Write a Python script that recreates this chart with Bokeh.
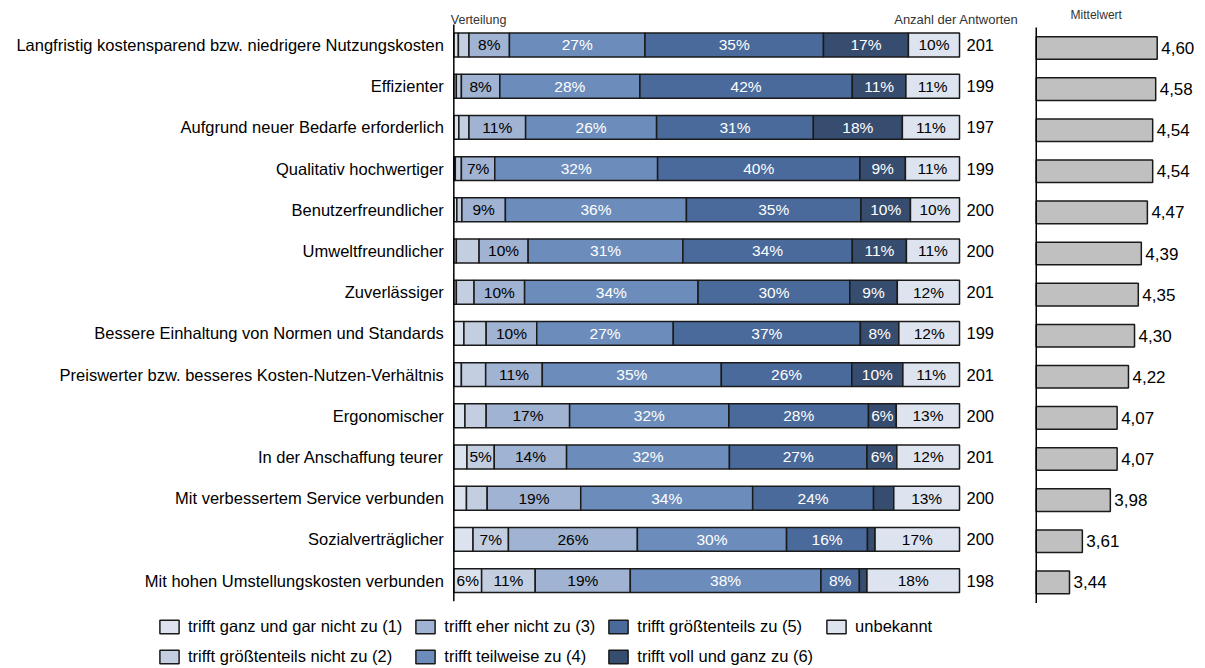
from bokeh.plotting import figure
from bokeh.models import ColumnDataSource, Range1d, Legend, LegendItem, Label
from bokeh.embed import file_html
from bokeh.resources import INLINE
from bokeh.core.properties import value

categories = [
    "Langfristig kostensparend bzw. niedrigere Nutzungskosten",
    "Effizienter",
    "Aufgrund neuer Bedarfe erforderlich",
    "Qualitativ hochwertiger",
    "Benutzerfreundlicher",
    "Umweltfreundlicher",
    "Zuverlässiger",
    "Bessere Einhaltung von Normen und Standards",
    "Preiswerter bzw. besseres Kosten-Nutzen-Verhältnis",
    "Ergonomischer",
    "In der Anschaffung teurer",
    "Mit verbessertem Service verbunden",
    "Sozialverträglicher",
    "Mit hohen Umstellungskosten verbunden",
]

# percentages per answer level (rows follow categories)
lvl1 = [0.9, 0.5, 1.0, 0.3, 0.6, 0.5, 0.5, 2.0, 1.5, 2.2, 2.6, 2.5, 3.8, 5.5]
lvl2 = [2.1, 1.0, 2.0, 1.2, 1.0, 4.5, 3.5, 4.4, 4.8, 4.2, 5.4, 4.1, 7.0, 10.6]
lvl3 = [8.0, 7.6, 11.2, 6.6, 8.6, 9.7, 10.0, 10.0, 11.2, 16.5, 14.3, 18.5, 25.5, 18.8]
lvl4 = [26.8, 27.7, 25.9, 32.2, 35.8, 30.6, 34.3, 27.0, 35.4, 31.5, 32.2, 34.0, 29.5, 37.7]
lvl5 = [35.3, 42.0, 31.0, 40.0, 34.5, 33.5, 30.0, 37.0, 25.8, 27.6, 27.2, 23.9, 16.0, 7.6]
lvl6 = [16.8, 10.6, 17.6, 9.0, 9.8, 10.7, 9.4, 7.6, 10.1, 5.5, 5.9, 4.0, 1.5, 1.5]
unbekannt = [10.1, 10.6, 11.3, 10.7, 9.7, 10.5, 12.3, 12.0, 11.2, 12.5, 12.4, 13.0, 16.7, 18.3]

anzahl = [201, 199, 197, 199, 200, 200, 201, 199, 201, 200, 201, 200, 200, 198]
mittelwert = [4.60, 4.58, 4.54, 4.54, 4.47, 4.39, 4.35, 4.30, 4.22, 4.07, 4.07, 3.98, 3.61, 3.44]

legend_labels = [
    "trifft ganz und gar nicht zu (1)",
    "trifft größtenteils nicht zu (2)",
    "trifft eher nicht zu (3)",
    "trifft teilweise zu (4)",
    "trifft größtenteils zu (5)",
    "trifft voll und ganz zu (6)",
    "unbekannt",
]

FONT = value("Liberation Sans")
colors = ["#DCE3EE", "#C3CEE1", "#A0B3D2", "#6C8DBC", "#4A6A9B", "#374D6F", "#DEE4EF"]
text_colors = ["#000000", "#000000", "#000000", "#FFFFFF", "#FFFFFF", "#FFFFFF", "#000000"]

n = len(categories)
rows = list(range(n))  # 0 = top row (y axis is flipped)

levels = [lvl1, lvl2, lvl3, lvl4, lvl5, lvl6, unbekannt]
keys = ["l1", "l2", "l3", "l4", "l5", "l6", "unb"]
data = {"y": rows, "cat": categories}
for k, v in zip(keys, levels):
    data[k] = v
src = ColumnDataSource(data)

p = figure(
    x_range=Range1d(-89.64, 147.06),
    y_range=Range1d(15.085, -1.080),
    frame_width=1197, frame_height=666,
    min_border=0,
    output_backend="svg", toolbar_location=None,
)
p.extra_x_ranges = {"mw": Range1d(-10.70, 5.133)}
p.extra_y_ranges = {"mw": Range1d(15.048, -1.156)}
p.xaxis.visible = False
p.yaxis.visible = False
p.xgrid.visible = False
p.ygrid.visible = False
p.outline_line_color = None

# ---------- distribution ----------
rs = p.hbar_stack(keys, y="y", height=0.58, fill_color=colors,
                  line_color="#1A1A1A", line_width=1.5, source=src)

tx, ty, tt, tc = [], [], [], []
for i in rows:
    left = 0.0
    for j, lv in enumerate(levels):
        v = lv[i]
        if v >= 5.0:
            tx.append(left + v / 2)
            ty.append(i)
            tt.append(f"{int(v + 0.5 + 1e-9)}%")
            tc.append(text_colors[j])
        left += v
p.text(x=tx, y=ty, text=tt, text_color=tc, text_align="center", text_baseline="middle",
       text_font=FONT, text_font_size="15.5px")

# category labels
p.text(x=0, y=rows, text=categories, x_offset=-10, text_align="right", text_baseline="middle",
       text_font=FONT, text_font_size="16.5px", text_color="#000000")

# counts
p.text(x=100, y=rows, text=[str(a) for a in anzahl], x_offset=7,
       text_align="left", text_baseline="middle",
       text_font=FONT, text_font_size="16.5px", text_color="#000000")

# vertical axis line of the distribution
p.segment(x0=0, y0=-0.5, x1=0, y1=n - 0.5, line_color="#000000", line_width=1.5)

p.add_layout(Label(x=0, y=-0.5, x_offset=-3, y_offset=4.5, text="Verteilung",
                   text_align="left", text_baseline="middle",
                   text_font="Liberation Sans", text_font_size="12.5px", text_color="#333333"))
p.add_layout(Label(x=100, y=-0.5, x_offset=59, y_offset=4.5, text="Anzahl der Antworten",
                   text_align="right", text_baseline="middle",
                   text_font="Liberation Sans", text_font_size="13px", text_color="#333333"))

# ---------- mean values ----------
p.hbar(y=rows, left=3, right=mittelwert, height=0.55, fill_color="#C0C0C0",
       line_color="#1A1A1A", line_width=1.5, x_range_name="mw", y_range_name="mw")
p.text(x=mittelwert, y=rows, text=[f"{m:.2f}".replace(".", ",") for m in mittelwert],
       x_offset=4, text_align="left", text_baseline="middle",
       text_font=FONT, text_font_size="17px", text_color="#000000",
       x_range_name="mw", y_range_name="mw")
p.segment(x0=3, y0=-0.5, x1=3, y1=n - 0.5, line_color="#000000", line_width=1.5,
          x_range_name="mw", y_range_name="mw")
p.add_layout(Label(x=3, y=-0.5, x_offset=60, y_offset=12, text="Mittelwert",
                   text_align="center", text_baseline="middle",
                   x_range_name="mw", y_range_name="mw",
                   text_font="Liberation Sans", text_font_size="12px", text_color="#333333"))

# ---------- legend ----------
items = [LegendItem(label=lab, renderers=[r]) for lab, r in zip(legend_labels, rs)]
legend = Legend(items=items, nrows=2, orientation="vertical", location=(157, 0),
                glyph_width=24, glyph_height=17, label_height=17, label_standoff=7,
                spacing=11, margin=0, padding=0, border_line_color=None,
                background_fill_alpha=0,
                label_text_font="Liberation Sans", label_text_font_size="16.5px",
                label_text_color="#000000")
p.add_layout(legend)

open("out.html", "w").write(file_html(p, INLINE))
